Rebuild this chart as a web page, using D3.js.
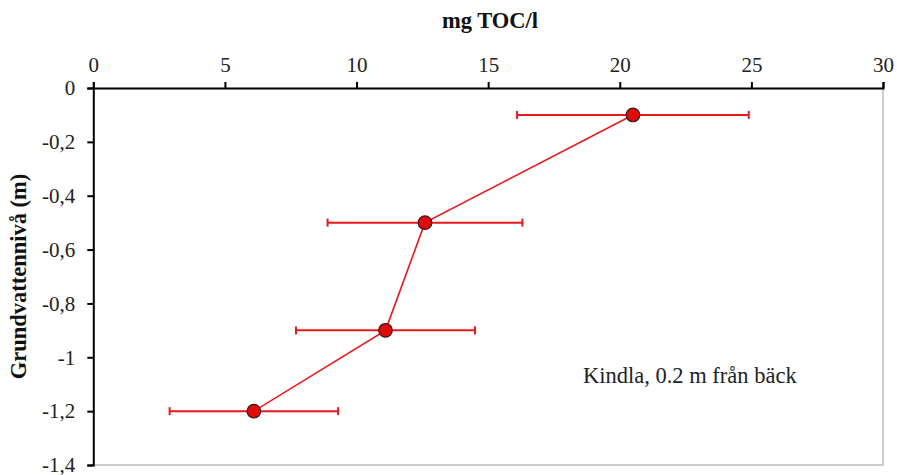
<!DOCTYPE html>
<html><head><meta charset="utf-8">
<script src="https://cdn.jsdelivr.net/npm/d3@7"></script>
<style>body{margin:0;background:#fff}svg{display:block}</style>
</head><body>
<script>
const depths = [-0.1, -0.5, -0.9, -1.2];
const toc = [20.5, 12.6, 11.1, 6.1];
const errLow = [16.1, 8.9, 7.7, 2.9];
const errHigh = [24.9, 16.3, 14.5, 9.3];
const xTicks = [0, 5, 10, 15, 20, 25, 30];
const yTicks = [0, -0.2, -0.4, -0.6, -0.8, -1, -1.2, -1.4];
const xTitle = "mg TOC/l";
const yTitle = "Grundvattennivå (m)";
const note = "Kindla, 0.2 m från bäck";

const W = 897, H = 475;
const m = {left: 93.3, right: 897 - 883, top: 88, bottom: 475 - 465};
const serif = "'Liberation Serif', 'Times New Roman', serif";
const svg = d3.select("body").append("svg").attr("width", W).attr("height", H)
  .style("font-family", serif);

const x = d3.scaleLinear().domain([0, 30]).range([m.left, W - m.right]);
const y = d3.scaleLinear().domain([0, -1.4]).range([m.top, H - m.bottom]);

// grey frame (right + bottom)
svg.append("path")
  .attr("d", `M${x(30)},${y(0)}V${y(-1.4)}H${x(0)}`)
  .attr("fill", "none").attr("stroke", "#bdbdbd").attr("stroke-width", 1.5);

const fmt = d => d === 0 ? "0" : String(d).replace(".", ",");

const xAxis = svg.append("g").attr("transform", `translate(0,${y(0)})`)
  .call(d3.axisTop(x).tickValues(xTicks).tickSize(6).tickPadding(10).tickFormat(d3.format("d")));
const yAxis = svg.append("g").attr("transform", `translate(${x(0)},0)`)
  .call(d3.axisLeft(y).tickValues(yTicks).tickSize(6).tickPadding(12).tickFormat(fmt));
[xAxis, yAxis].forEach(g => {
  g.select(".domain").attr("stroke", "#000").attr("stroke-width", 2);
  g.selectAll(".tick line").attr("stroke", "#000").attr("stroke-width", 2);
  g.selectAll(".tick text").attr("fill", "#222").style("font-size", "21px")
    .style("font-family", serif);
});

svg.append("text").attr("x", 490).attr("y", 28)
  .attr("text-anchor", "middle").style("font-size", "22.5px").style("font-weight", "bold")
  .attr("fill", "#111").text(xTitle);
svg.append("text").attr("transform", `translate(26,${(y(0) + y(-1.4)) / 2}) rotate(-90)`)
  .attr("text-anchor", "middle").style("font-size", "22.5px").style("font-weight", "bold")
  .attr("fill", "#111").text(yTitle);

const red = "#e8191c";
const data = depths.map((d, i) => ({d, v: toc[i], lo: errLow[i], hi: errHigh[i]}));

// error bars
const eb = svg.append("g");
data.forEach(p => {
  eb.append("line").attr("x1", x(p.lo)).attr("x2", x(p.hi)).attr("y1", y(p.d)).attr("y2", y(p.d))
    .attr("stroke", red).attr("stroke-width", 2);
  [p.lo, p.hi].forEach(v => eb.append("line").attr("x1", x(v)).attr("x2", x(v))
    .attr("y1", y(p.d) - 4).attr("y2", y(p.d) + 4).attr("stroke", red).attr("stroke-width", 2));
});

svg.append("path").datum(data)
  .attr("d", d3.line().x(p => x(p.v)).y(p => y(p.d)))
  .attr("fill", "none").attr("stroke", red).attr("stroke-width", 1.6);

svg.append("g").selectAll("circle").data(data).join("circle")
  .attr("cx", p => x(p.v)).attr("cy", p => y(p.d)).attr("r", 6.8)
  .attr("fill", "#e00b0b").attr("stroke", "#3a1a1a").attr("stroke-width", 1.2);

svg.append("text").attr("x", 583).attr("y", 383).style("font-size", "22.5px")
  .attr("fill", "#222").text(note);
</script>
</body></html>
